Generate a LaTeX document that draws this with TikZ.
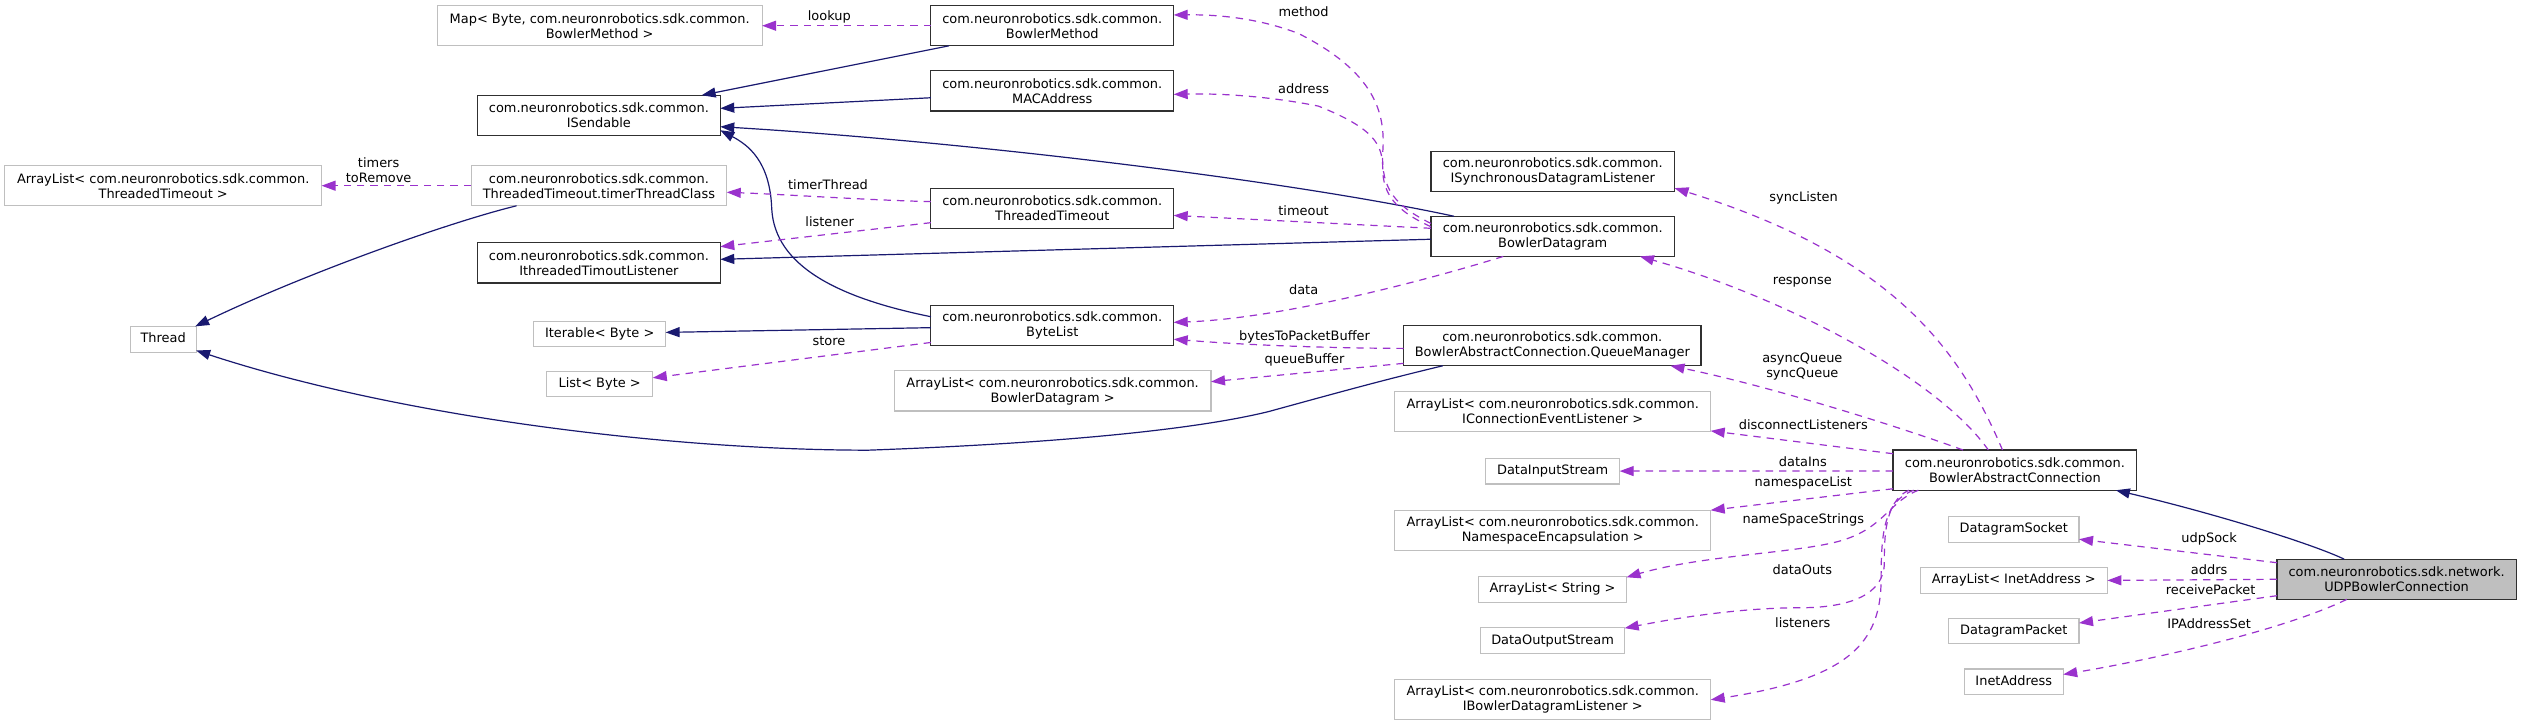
\documentclass[tikz,border=0pt]{standalone}
\usepackage{fontspec}
\setmainfont{DejaVu Sans}
\usetikzlibrary{arrows.meta}
\definecolor{navy}{HTML}{191970}
\definecolor{orchid}{HTML}{9A32CD}
\definecolor{g75}{HTML}{BFBFBF}
\definecolor{bord}{HTML}{303030}
\begin{document}
\begin{tikzpicture}[x=1.20583pt, y=-1.20583pt,
  box/.style 2 args={minimum width=#1*1.20583pt, minimum height=#2*1.20583pt},
  basebox/.style={inner sep=0pt, outer sep=0pt, align=center, font=\fontsize{9.7pt}{11.25pt}\selectfont, line width=0.85pt, fill=white},
  cls/.style={basebox, draw=bord},
  ext/.style={basebox, draw=g75},
  rootbox/.style={basebox, draw=bord, fill=g75},
  one/.style={text height=7.2pt, text depth=2.1pt},
  inh/.style={draw=navy, line width=0.9pt, -{Triangle[length=10.5pt,width=7.5pt]}},
  usee/.style={draw=orchid, line width=0.9pt, dash pattern=on 5.5pt off 4.5pt, -{Triangle[length=10.5pt,width=7.5pt]}},
  lbl/.style={font=\fontsize{9.7pt}{11.25pt}\selectfont, inner sep=0pt, text height=7pt, text depth=2pt},
  lbltwo/.style={font=\fontsize{9.7pt}{11.25pt}\selectfont, inner sep=0pt, align=center}
]
\fill[white] (0,0) rectangle (1568,449.69);
\useasboundingbox (0,0) rectangle (1568,449.69);

% nodes
\node[ext, box={202}{25}] (map) at (373,16) {Map< Byte, com.neuronrobotics.sdk.common.\\BowlerMethod >};
\node[cls, box={151}{25}] (isend) at (372.5,71.75) {com.neuronrobotics.sdk.common.\\ISendable};
\node[ext, box={197}{25}] (alto) at (101.5,115.5) {ArrayList< com.neuronrobotics.sdk.common.\\ThreadedTimeout >};
\node[ext, box={159}{25}] (ttc) at (372.5,115.5) {com.neuronrobotics.sdk.common.\\ThreadedTimeout.timerThreadClass};
\node[cls, box={151}{25}] (ithr) at (372.5,163.5) {com.neuronrobotics.sdk.common.\\IthreadedTimoutListener};
\node[ext, one, box={41}{16}] (thread) at (101.5,211) {Thread};
\node[ext, one, box={82}{16}] (iter) at (373,207.75) {Iterable< Byte >};
\node[ext, one, box={66}{16}] (list) at (373,238.85) {List< Byte >};
\node[cls, box={151}{25}] (bm) at (654.5,16) {com.neuronrobotics.sdk.common.\\BowlerMethod};
\node[cls, box={151}{25}] (mac) at (654.5,56.5) {com.neuronrobotics.sdk.common.\\MACAddress};
\node[cls, box={151}{25}] (tt) at (654.5,129.5) {com.neuronrobotics.sdk.common.\\ThreadedTimeout};
\node[cls, box={151}{25}] (bl) at (654.5,202.5) {com.neuronrobotics.sdk.common.\\ByteList};
\node[ext, box={197}{25}] (albd) at (654.7,243.15) {ArrayList< com.neuronrobotics.sdk.common.\\BowlerDatagram >};
\node[cls, box={151.5}{25}] (isdl) at (965.75,106.5) {com.neuronrobotics.sdk.common.\\ISynchronousDatagramListener};
\node[cls, box={151.5}{25}] (bd) at (965.75,147) {com.neuronrobotics.sdk.common.\\BowlerDatagram};
\node[cls, box={185}{25}] (qm) at (965.5,215) {com.neuronrobotics.sdk.common.\\BowlerAbstractConnection.QueueManager};
\node[ext, box={196.5}{25}] (alcel) at (965.75,256) {ArrayList< com.neuronrobotics.sdk.common.\\IConnectionEventListener >};
\node[ext, one, box={83.4}{16}] (dis) at (965.7,293) {DataInputStream};
\node[ext, box={196.5}{25}] (alne) at (965.75,329.85) {ArrayList< com.neuronrobotics.sdk.common.\\NamespaceEncapsulation >};
\node[ext, one, box={92}{16}] (als) at (965.65,366.55) {ArrayList< String >};
\node[ext, one, box={89.7}{16}] (dos) at (965.65,398.45) {DataOutputStream};
\node[ext, box={196.5}{25}] (albdl) at (965.75,435.25) {ArrayList< com.neuronrobotics.sdk.common.\\IBowlerDatagramListener >};
\node[cls, box={151.6}{25}] (bac) at (1253.2,292.4) {com.neuronrobotics.sdk.common.\\BowlerAbstractConnection};
\node[rootbox, box={148.7}{25}] (udp) at (1490.6,360.3) {com.neuronrobotics.sdk.network.\\UDPBowlerConnection};
\node[ext, one, box={81.2}{16}] (ds) at (1252.5,329.3) {DatagramSocket};
\node[ext, one, box={116.5}{16}] (alia) at (1252.5,361) {ArrayList< InetAddress >};
\node[ext, one, box={81.2}{16}] (dp) at (1252.5,392.5) {DatagramPacket};
\node[ext, one, box={61.5}{16}] (ia) at (1252.5,424.1) {InetAddress};

% inheritance
\draw[inh] ([shift={(-64.2,12.5)}]bm.center) -- ([shift={(63.9,-12.5)}]isend.center);
\draw[inh] ([shift={(-75.5,4.3)}]mac.center) -- ([shift={(75.5,-4.35)}]isend.center);
\draw[inh] ([shift={(-61.45,-12.5)}]bd.center) .. controls (800,112) and (600,88) .. ([shift={(75.5,7.05)}]isend.center);
\draw[inh] ([shift={(-75.5,-5.5)}]bl.center) .. controls (520,185) and (482,165) .. (480,130) .. controls (479,100) and (465,90) .. ([shift={(75.5,9.25)}]isend.center);
\draw[inh] ([shift={(-51.2,12.5)}]ttc.center) .. controls (280,138) and (190,170) .. ([shift={(19.9,-8)}]thread.center);
\draw[inh] ([shift={(-75.75,1.8)}]bd.center) -- ([shift={(75.5,-2.2)}]ithr.center);
\draw[inh] ([shift={(-75.5,1.3)}]bl.center) -- ([shift={(41,-1)}]iter.center);
\draw[inh] ([shift={(-68.1,12.5)}]qm.center) .. controls (862,236) and (840,242) .. (789,256) .. controls (740,268) and (650,276) .. (540,280) .. controls (420,280) and (250,260) .. ([shift={(20.5,7)}]thread.center);
\draw[inh] ([shift={(-32.6,-12.5)}]udp.center) .. controls (1440,339) and (1380,320) .. ([shift={(62.8,12.5)}]bac.center);

% usage
\draw[usee] (bm.west) -- (map.east);
\draw[usee] ([shift={(-75.75,-8)}]bd.center) .. controls (868,128) and (859,118) .. (860,95) .. controls (862,70) and (855,45) .. (808,21) .. controls (785,12) and (760,9) .. ([shift={(75.5,-6.7)}]bm.center);
\draw[usee] ([shift={(-75.75,-6)}]bd.center) .. controls (870,132) and (860,122) .. (860,105) .. controls (860,90) and (855,80) .. (820,66) .. controls (790,60) and (760,58) .. ([shift={(75.5,2.2)}]mac.center);
\draw[usee] ([shift={(-75.75,-5)}]bd.center) -- ([shift={(75.5,4.5)}]tt.center);
\draw[usee] ([shift={(-30.75,12.5)}]bd.center) .. controls (895,172) and (800,198) .. ([shift={(75.5,-2)}]bl.center);
\draw[usee] ([shift={(-92.5,1.7)}]qm.center) .. controls (830,216.5) and (780,215) .. ([shift={(75.5,8.5)}]bl.center);
\draw[usee] ([shift={(-92.5,11)}]qm.center) -- ([shift={(98.5,-5.75)}]albd.center);
\draw[usee] ([shift={(-75.5,-4.1)}]tt.center) .. controls (540,124.5) and (490,121) .. ([shift={(79.5,4.1)}]ttc.center);
\draw[usee] ([shift={(-75.5,9)}]tt.center) -- ([shift={(75.5,-10.1)}]ithr.center);
\draw[usee] (ttc.west) -- (alto.east);
\draw[usee] ([shift={(-75.5,10.5)}]bl.center) -- ([shift={(33,-3.85)}]list.center);

\draw[usee] ([shift={(-7.7,-12.5)}]bac.center) .. controls (1220,220) and (1180,160) .. ([shift={(75.75,10.5)}]isdl.center);
\draw[usee] ([shift={(-16.5,-12.5)}]bac.center) .. controls (1205,235) and (1110,185) .. ([shift={(54.25,12.5)}]bd.center);
\draw[usee] ([shift={(-32.2,-12.5)}]bac.center) .. controls (1180,265) and (1100,240) .. ([shift={(73.5,12.5)}]qm.center);
\draw[usee] ([shift={(-75.8,-10.2)}]bac.center) -- ([shift={(98.25,12)}]alcel.center);
\draw[usee] ([shift={(-75.8,0.6)}]bac.center) -- (dis.east);
\draw[usee] ([shift={(-75.8,11.6)}]bac.center) -- ([shift={(98.25,-12.5)}]alne.center);
\draw[usee] ([shift={(-60,12.5)}]bac.center) .. controls (1175,312) and (1172,328) .. (1146,336) .. controls (1120,344) and (1060,345) .. ([shift={(46,-7.5)}]als.center);
\draw[usee] ([shift={(-66,12.5)}]bac.center) .. controls (1172,312) and (1172,335) .. (1172,350) .. controls (1172,370) and (1150,378) .. (1120,378) .. controls (1080,378) and (1040,385) .. ([shift={(44.85,-7.75)}]dos.center);
\draw[usee] ([shift={(-63,12.5)}]bac.center) .. controls (1172,312) and (1170,330) .. (1170,360) .. controls (1170,400) and (1150,422) .. ([shift={(98.25,0)}]albdl.center);

\draw[usee] ([shift={(-74.35,-10.3)}]udp.center) -- ([shift={(40.6,6.1)}]ds.center);
\draw[usee] (udp.west) -- (alia.east);
\draw[usee] ([shift={(-74.35,10.2)}]udp.center) -- ([shift={(40.6,-5)}]dp.center);
\draw[usee] ([shift={(-31,12.5)}]udp.center) .. controls (1420,392) and (1340,410) .. ([shift={(30.75,-4.6)}]ia.center);

% labels
\node[lbl] (t1) at (515.8,10.4) {lookup};
\node[lbltwo] (t2) at (235.5,105.9) {timers\\toRemove};
\node[lbl] (t3) at (515,116) {timerThread};
\node[lbl] (t4) at (516,138.5) {listener};
\node[lbl] (t5) at (515.6,212.9) {store};
\node[lbl] (t6) at (810.8,7.9) {method};
\node[lbl] (t7) at (810.8,55.8) {address};
\node[lbl] (t8) at (810.8,132) {timeout};
\node[lbl] (t9) at (810.8,180.8) {data};
\node[lbl] (t10) at (811.4,209.4) {bytesToPacketBuffer};
\node[lbl] (t11) at (811.4,224.3) {queueBuffer};
\node[lbl] (t12) at (1121.8,123) {syncListen};
\node[lbl] (t13) at (1121,174.8) {response};
\node[lbltwo] (t14) at (1121,228) {asyncQueue\\syncQueue};
\node[lbl] (t15) at (1121.6,265.3) {disconnectListeners};
\node[lbl] (t16) at (1121.3,287.8) {dataIns};
\node[lbl] (t17) at (1121.6,300.4) {namespaceList};
\node[lbl] (t18) at (1121.6,323.8) {nameSpaceStrings};
\node[lbl] (t19) at (1121,355) {dataOuts};
\node[lbl] (t20) at (1121.3,388.2) {listeners};
\node[lbl] (t21) at (1374,335.5) {udpSock};
\node[lbl] (t22) at (1374,355) {addrs};
\node[lbl] (t23) at (1375,367.5) {receivePacket};
\node[lbl] (t24) at (1374,389) {IPAddressSet};
\end{tikzpicture}
\end{document}
